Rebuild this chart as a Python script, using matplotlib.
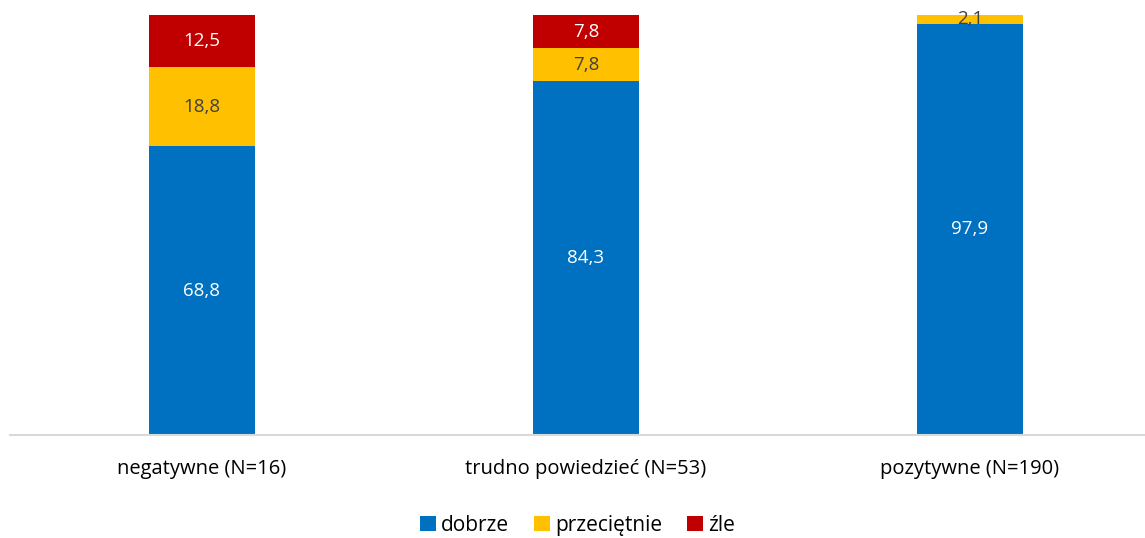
import matplotlib.pyplot as plt
import numpy as np

plt.rcParams['font.family'] = ['Open Sans', 'DejaVu Sans']

categories = ['negatywne (N=16)', 'trudno powiedzieć (N=53)', 'pozytywne (N=190)']
dobrze = [68.8, 84.3, 97.9]
przecietnie = [18.8, 7.8, 2.1]
zle = [12.5, 7.8, 0.0]

series = [('dobrze', dobrze, '#0070C0', 'white'),
          ('przeciętnie', przecietnie, '#FFC000', '#404040'),
          ('źle', zle, '#C00000', 'white')]

fig = plt.figure(figsize=(11.45, 5.38), dpi=100)
ax = fig.add_axes([10 / 1145, 103 / 538, 1135 / 1145, 420 / 538])

x = np.arange(len(categories))
bottom = np.zeros(len(categories))
for name, vals, color, tcolor in series:
    vals = np.array(vals)
    ax.bar(x, vals, 0.276, bottom=bottom, color=color, label=name, zorder=2)
    for xi, b, v in zip(x, bottom, vals):
        if v > 0:
            ax.text(xi, b + v / 2, f'{v:.1f}'.replace('.', ','), ha='center', va='center',
                    color=tcolor, fontsize=13.5)
    bottom += vals

ax.set_xlim(-0.5, 2.456)
ax.set_ylim(0, 100)
ax.set_yticks([])
ax.set_xticks(x)
ax.set_xticklabels(categories, fontsize=14.5)
ax.tick_params(axis='x', length=0, pad=17)
for s in ['top', 'right', 'left']:
    ax.spines[s].set_visible(False)
ax.spines['bottom'].set_color('#D9D9D9')
ax.spines['bottom'].set_linewidth(1.5)

ax.legend(loc='center', bbox_to_anchor=(0.5, -0.215), ncol=3, frameon=False, fontsize=15,
          handlelength=0.75, handleheight=0.75, handletextpad=0.25, columnspacing=1.2)

fig.savefig('out.png', dpi=100)
